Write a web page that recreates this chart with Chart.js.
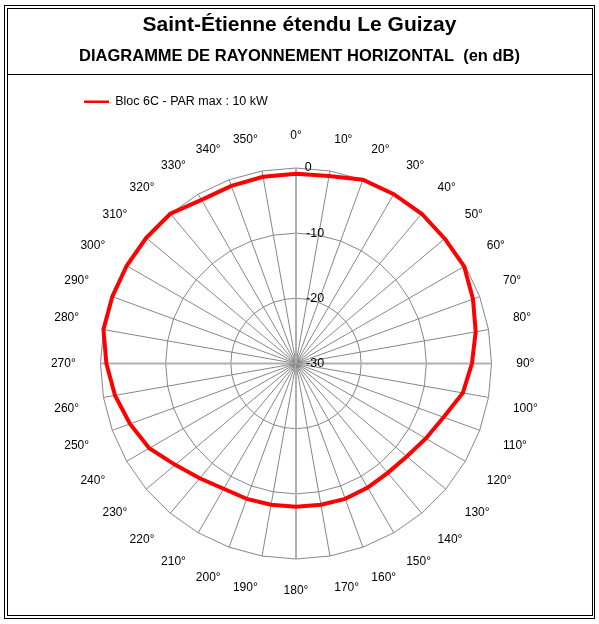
<!DOCTYPE html>
<html>
<head>
<meta charset="utf-8">
<script src="https://cdn.jsdelivr.net/npm/chart.js@4/dist/chart.umd.min.js"></script>
<style>
  html, body { margin: 0; padding: 0; background: #fff; }
  canvas { display: block; }
</style>
</head>
<body>
<canvas id="c" width="599" height="624"></canvas>
<script>
// ---- Data ----
const categories = ['0°','10°','20°','30°','40°','50°','60°','70°','80°','90°','100°','110°',
  '120°','130°','140°','150°','160°','170°','180°','190°','200°','210°','220°','230°',
  '240°','250°','260°','270°','280°','290°','300°','310°','320°','330°','340°','350°'];
const seriesLabel = 'Bloc 6C - PAR max : 10 kW';
const seriesValues = [-0.9, -0.8, 0, 0, 0, -0.2, -0.2, -1.1, -2.0, -3.0, -4.0, -5.9,
  -7.0, -7.8, -8.1, -8.0, -7.9, -8.0, -8.0, -8.0, -7.9, -7.8, -7.0, -5.8,
  -4.0, -2.9, -1.8, -0.9, 0, 0, 0, 0, 0, -1.0, -1.0, -0.9];
const tickValues = [-30, -20, -10, 0];
const tickLabels = ['-30', '-20', '-10', '0'];
const titleText = 'Saint-Étienne étendu Le Guizay';
const subtitleText = 'DIAGRAMME DE RAYONNEMENT HORIZONTAL  (en dB)';

const FAMILY = "'Liberation Sans', Arial, sans-serif";

const framePlugin = {
  id: 'frame',
  beforeDraw(chart) {
    const ctx = chart.ctx;
    ctx.save();
    ctx.fillStyle = '#ffffff';
    ctx.fillRect(0, 0, chart.width, chart.height);
    ctx.strokeStyle = '#000000';
    ctx.lineWidth = 1;
    ctx.strokeRect(4.5, 5.5, 590, 613);
    ctx.strokeRect(7.5, 8.5, 585, 607);
    ctx.beginPath();
    ctx.moveTo(7.5, 74.5);
    ctx.lineTo(592.5, 74.5);
    ctx.stroke();
    ctx.restore();
  }
};

new Chart(document.getElementById('c'), {
  type: 'radar',
  data: {
    labels: categories,
    datasets: [{
      label: seriesLabel,
      data: seriesValues,
      borderColor: '#ff0000',
      backgroundColor: 'rgba(0,0,0,0)',
      borderWidth: 4,
      pointRadius: 0,
      pointHoverRadius: 0,
      fill: false,
      tension: 0,
      clip: false
    }]
  },
  options: {
    responsive: false,
    animation: false,
    layout: { padding: { left: 74, right: 74, top: 0, bottom: 0 } },
    plugins: {
      title: {
        display: true, text: titleText, color: '#000',
        font: { family: FAMILY, size: 21, weight: 'bold' },
        padding: { top: 12.9, bottom: 0 }
      },
      subtitle: {
        display: true, text: subtitleText, color: '#000',
        font: { family: FAMILY, size: 16.5, weight: 'bold' },
        padding: { top: 8, bottom: 19.5 }
      },
      legend: {
        display: true, position: 'top', align: 'start',
        labels: {
          usePointStyle: true, pointStyle: 'line', pointStyleWidth: 25, boxWidth: 25,
          padding: 10, color: '#000',
          font: { family: FAMILY, size: 12.5 },
          generateLabels(chart) {
            const items = Chart.defaults.plugins.legend.labels.generateLabels(chart);
            items.forEach(it => { it.lineWidth = 2.5; it.pointStyle = 'line'; it.strokeStyle = '#ff0000'; });
            return items;
          }
        }
      },
      tooltip: { enabled: false }
    },
    scales: {
      r: {
        min: -30, max: 0,
        startAngle: 0,
        afterSetDimensions(scale) {
          scale.left = 0; scale.right = 599; scale.top = 0; scale.bottom = 624;
          scale.xCenter = 296; scale.yCenter = 363.5; scale.drawingArea = 195.5;
        },
        afterBuildTicks(scale) {
          scale.ticks = tickValues.map(v => ({ value: v }));
        },
        ticks: {
          display: true, showLabelBackdrop: false, backdropPadding: 0, color: '#000',
          font: { family: FAMILY, size: 12.5 },
          callback: (v, i) => ' '.repeat(tickLabels[i].length > 1 ? 11 : 7) + tickLabels[i]
        },
        grid: { circular: false, color: '#878787', lineWidth: 1 },
        angleLines: {
          display: true,
          color: c => (c.index % 9 === 0 ? '#b0b0b0' : '#878787'),
          lineWidth: c => (c.index % 9 === 0 ? 2 : 1)
        },
        pointLabels: {
          display: true, color: '#000',
          font: { family: FAMILY, size: 12 },
          padding: 18.5
        }
      }
    }
  },
  plugins: [framePlugin]
});
</script>
</body>
</html>
